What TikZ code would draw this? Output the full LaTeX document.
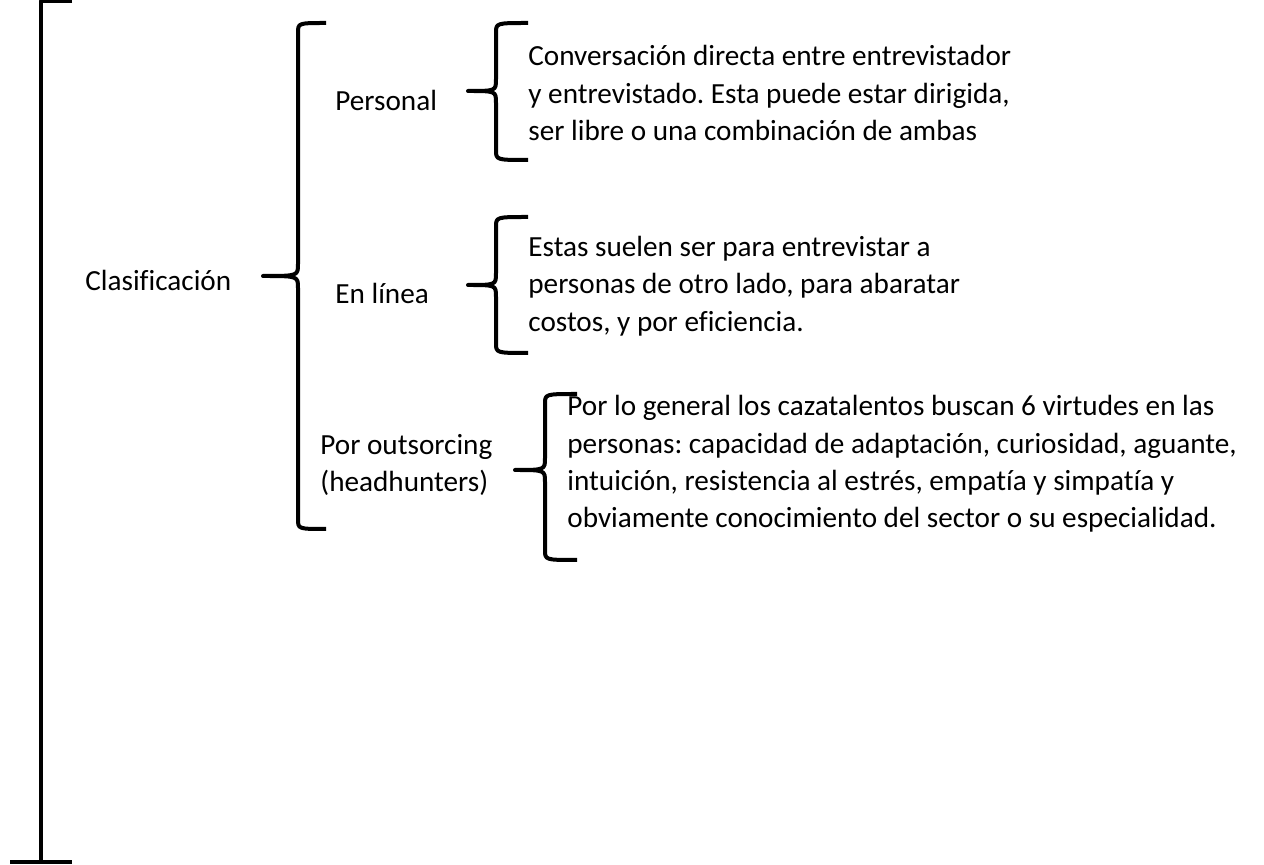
\documentclass[tikz,border=0pt]{standalone}
\usepackage{fontspec}
\setmainfont{Carlito}[Ligatures=NoCommon]
\usetikzlibrary{positioning}
\frenchspacing

% llave: punta x, linea x, extremo x, arriba y, medio y, abajo y
\newcommand{\llave}[6]{%
  \draw[trazo] (#3,#4) .. controls (#2,#4) .. (#2,#4+10) -- (#2,#5-12)
    .. controls (#2,#5) .. (#1,#5) .. controls (#2,#5) .. (#2,#5+12)
    -- (#2,#6-10) .. controls (#2,#6) .. (#3,#6);}

\begin{document}
\begin{tikzpicture}[x=0.5pt,y=-0.5pt]
	\tikzstyle{trazo}=[line width=2pt,line join=round]
	\tikzstyle{texto}=[font=\fontsize{14.6}{18.7}\selectfont,align=left,inner sep=0pt,anchor=west]
	\useasboundingbox (0,0) rectangle (1264,865);

	% corchete grande
	\draw[trazo] (72,1) -- (41,1) -- (41,862);
	\draw[trazo] (10,862) -- (72,862);

	\node[texto] (clasif)   at (85,280)  {Clasificación};
	\node[texto] (personal) at (335,100) {Personal};
	\node[texto] (enlinea)  at (335,293) {En línea};
	\node[texto] (outsrc)   at (320,465) {Por outsorcing\\(headhunters)};

	\node[texto] (txtpers)  at (528,93)  {Conversación directa entre entrevistador\\y entrevistado. Esta puede estar dirigida,\\ser libre o una combinación de ambas};
	\node[texto] (txtlinea) at (528,286) {Estas suelen ser para entrevistar a\\personas de otro lado, para abaratar\\costos, y por eficiencia.};
	\node[texto] (txtout)   at (567,464) {Por lo general los cazatalentos buscan 6 virtudes en las\\personas: capacidad de adaptación, curiosidad, aguante,\\intuición, resistencia al estrés, empatía y simpatía y\\obviamente conocimiento del sector o su especialidad.};

	\llave{263}{298}{326}{23}{276}{529}
	\llave{468}{496}{528}{23}{91}{160}
	\llave{468}{496}{528}{217}{285}{353}
	\llave{515}{545}{577}{394}{470}{560}
\end{tikzpicture}
\end{document}
